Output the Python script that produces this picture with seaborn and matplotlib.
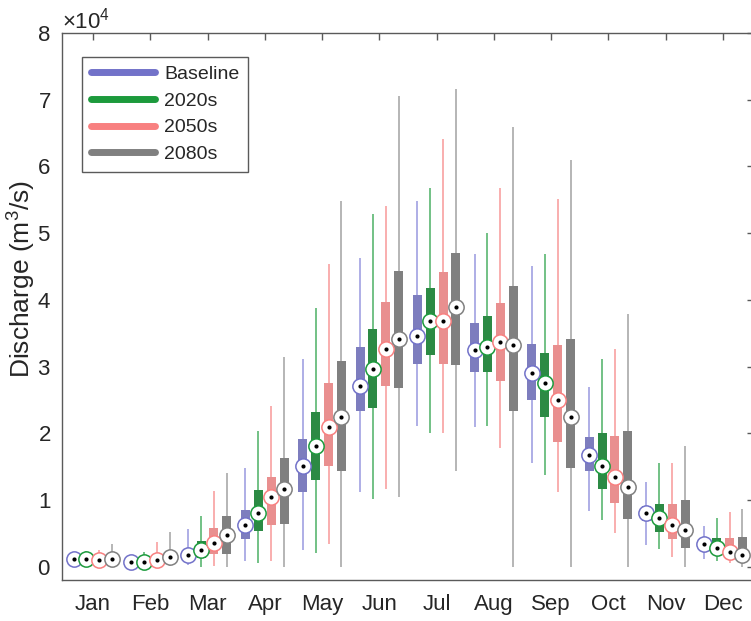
import matplotlib
matplotlib.use("Agg")
import matplotlib.pyplot as plt
from matplotlib.lines import Line2D
import numpy as np
import pandas as pd
import seaborn as sns

# Monthly discharge statistics (m3/s).
# Each entry: (whisker low, Q1, median, Q3, whisker high)
months = ["Jan", "Feb", "Mar", "Apr", "May", "Jun",
          "Jul", "Aug", "Sep", "Oct", "Nov", "Dec"]
scenarios = ["Baseline", "2020s", "2050s", "2080s"]

baseline = [
    (400, 800, 1100, 1500, 2200),
    (200, 500, 750, 1000, 1700),
    (300, 1200, 1750, 2500, 5600),
    (850, 4100, 6200, 8550, 14750),
    (2500, 11250, 15150, 19200, 31100),
    (11250, 23400, 27100, 32900, 46200),
    (21100, 30400, 34570, 40660, 54800),
    (21000, 29150, 32500, 36500, 46850),
    (15600, 25000, 29100, 33450, 45100),
    (8400, 14350, 16750, 19400, 27000),
    (3200, 6850, 8000, 9150, 12750),
    (1100, 2800, 3400, 4000, 6100),
]
s2020 = [
    (400, 800, 1100, 1500, 2400),
    (200, 500, 750, 1100, 2200),
    (0, 1250, 2450, 3900, 7650),
    (600, 5350, 8050, 11500, 20300),
    (2100, 13000, 18100, 23250, 38750),
    (10100, 23800, 29600, 35700, 52800),
    (20100, 31700, 36800, 41700, 56700),
    (21100, 29200, 32900, 37600, 50000),
    (13750, 22400, 27600, 32100, 46800),
    (7000, 11600, 15150, 20100, 31200),
    (2600, 5200, 7250, 9350, 15500),
    (900, 2000, 2750, 4250, 7350),
]
s2050 = [
    (300, 700, 1000, 1500, 2500),
    (200, 600, 1000, 1500, 3700),
    (100, 1850, 3550, 5750, 11350),
    (900, 6200, 10450, 13450, 24150),
    (3400, 15100, 21000, 27600, 45350),
    (11600, 27150, 32650, 39700, 54000),
    (20100, 30400, 36900, 44200, 64150),
    (17800, 27900, 33700, 39500, 56700),
    (11250, 18700, 25000, 33250, 55100),
    (5000, 9600, 13500, 19650, 32700),
    (1500, 4200, 6250, 9400, 15500),
    (600, 1500, 2250, 4250, 8200),
]
s2080 = [
    (300, 800, 1200, 1800, 3400),
    (100, 900, 1500, 2400, 5200),
    (0, 1900, 4800, 7600, 14000),
    (0, 6400, 11650, 16300, 31500),
    (0, 14350, 22400, 30900, 54800),
    (10400, 26850, 34200, 44250, 70500),
    (14300, 30200, 38900, 47050, 71600),
    (0, 23300, 33200, 42050, 65900),
    (0, 14750, 22450, 34200, 61000),
    (0, 7200, 11950, 20400, 37850),
    (0, 2850, 5500, 10000, 18100),
    (0, 1000, 1750, 4400, 8600),
]

box_colors = ["#7272c9", "#1c9a3c", "#f88080", "#808080"]
whisker_colors = ["#aeaee6", "#72c185", "#f9aeae", "#b5b5b5"]

rows = []
for name, stats in zip(scenarios, [baseline, s2020, s2050, s2080]):
    for month, five in zip(months, stats):
        for value in five:
            rows.append({"month": month, "scenario": name, "value": value})
df = pd.DataFrame(rows)

sns.set_theme(style="white")
plt.rcParams["font.family"] = ["Liberation Sans", "DejaVu Sans"]
plt.rcParams["mathtext.fontset"] = "custom"
plt.rcParams["mathtext.rm"] = "Liberation Sans"

fig = plt.figure(figsize=(7.51, 6.21), dpi=100)
ax = fig.add_axes([62 / 751, 41 / 621, 692 / 751, 547 / 621])

common = dict(data=df, x="month", y="value", hue="scenario", order=months,
              hue_order=scenarios, width=0.9, gap=0.3, whis=(0, 100),
              showcaps=False, showfliers=False, legend=False, ax=ax)

# thin whiskers in lighter shades
sns.boxplot(fill=False, palette=whisker_colors, linewidth=1.4,
            boxprops={"visible": False}, medianprops={"visible": False},
            **common)
# thick boxes
sns.boxplot(fill=True, palette=box_colors, linewidth=0,
            whiskerprops={"visible": False}, medianprops={"visible": False},
            **common)

# median markers: white circle with a black dot
sns.pointplot(data=df, x="month", y="value", hue="scenario", order=months,
              hue_order=scenarios, estimator="median", errorbar=None,
              dodge=0.675, palette=box_colors, markers="o", linestyle="none",
              markersize=11, markerfacecolor="white", markeredgewidth=1.1,
              legend=False, ax=ax)
sns.pointplot(data=df, x="month", y="value", hue="scenario", order=months,
              hue_order=scenarios, estimator="median", errorbar=None,
              dodge=0.675, palette=["black"] * 4, markers="o",
              linestyle="none", markersize=3, markeredgewidth=0,
              legend=False, ax=ax)

ax.set_xlim(-0.54, 11.54)
ax.set_ylim(-2000, 80000)
ax.set_yticks(np.arange(0, 80001, 10000))
ax.ticklabel_format(axis="y", style="sci", scilimits=(4, 4), useMathText=True)
ax.set_xlabel("")
ax.set_ylabel("Discharge (m$^3$/s)", fontsize=19, color="#262626")
ax.yaxis.set_label_coords(-0.036, 0.55)

axis_color = "#5a5a5a"
for side in ["left", "right", "top", "bottom"]:
    ax.spines[side].set_visible(True)
    ax.spines[side].set_color(axis_color)
    ax.spines[side].set_linewidth(1.0)
ax.tick_params(axis="both", direction="in", length=5, width=1.0,
               color=axis_color, labelcolor="#262626", labelsize=16,
               top=True, right=True)
ax.tick_params(axis="x", pad=10)
ax.tick_params(axis="y", pad=8)
ax.yaxis.get_offset_text().set_fontsize(16)
ax.yaxis.get_offset_text().set_color("#262626")

handles = [Line2D([0], [0], color=c, linewidth=5) for c in box_colors]
leg = ax.legend(handles, scenarios, loc="upper left",
                bbox_to_anchor=(0.029, 0.957), borderaxespad=0,
                fontsize=14, handlelength=3.3, handletextpad=0.46,
                labelspacing=0.47, borderpad=0.45, fancybox=False,
                framealpha=1, edgecolor=axis_color)
leg.get_frame().set_linewidth(1.0)
for t in leg.get_texts():
    t.set_color("#262626")

fig.savefig("out.png", dpi=100)
